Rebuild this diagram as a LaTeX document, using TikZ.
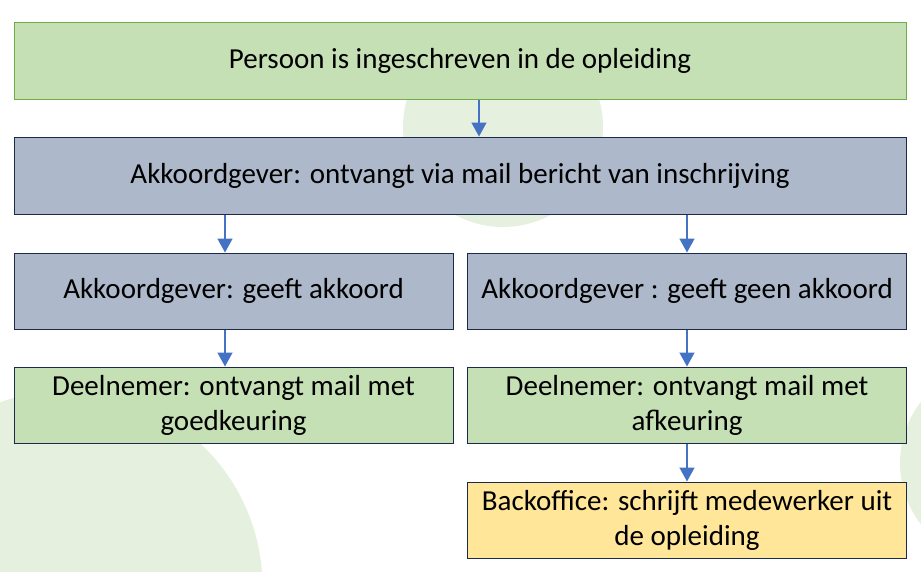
\documentclass[tikz,border=0pt]{standalone}
\usepackage{fontspec}
\setmainfont{Carlito}
\usetikzlibrary{arrows.meta,positioning}
\definecolor{boxgreen}{HTML}{C5E0B4}
\definecolor{boxgreenline}{HTML}{70AD47}
\definecolor{boxblue}{HTML}{ADB9CA}
\definecolor{boxline}{HTML}{1B2A4A}
\definecolor{boxyellow}{HTML}{FFE699}
\definecolor{bgcircle}{HTML}{E6F0DE}
\definecolor{arrowblue}{HTML}{4472C4}
\begin{document}
\begin{tikzpicture}[x=1pt,y=-1pt,
  stepbox/.style={draw=boxline,line width=1pt,minimum height=76pt,inner sep=0pt,align=center,
    font=\fontsize{29}{35}\selectfont,text=black},
  wide/.style={stepbox,minimum width=892pt},
  half/.style={stepbox,minimum width=439pt},
  flow/.style={draw=arrowblue,line width=1.5pt,-{Triangle[length=14pt,width=15pt]}}]
\useasboundingbox (0,0) rectangle (921,571);
% background circles
\fill[bgcircle] (503,127) circle (100);
\fill[bgcircle] (66.5,586.7) circle (196);
\fill[bgcircle] (1000,463) circle (100);
% boxes
\node[wide,fill=boxgreen,draw=boxgreenline,minimum height=77pt] (b1) at (460,60.5) {Persoon is ingeschreven in de opleiding};
\node[wide,fill=boxblue,minimum height=77pt] (b2) at (460,175.5) {Akkoordgever: ontvangt via mail bericht van inschrijving};
\node[half,fill=boxblue] (b3) at (233.5,291) {Akkoordgever: geeft akkoord};
\node[half,fill=boxblue] (b4) at (687,291) {Akkoordgever : geeft geen akkoord};
\node[half,fill=boxgreen] (b5) at (233.5,405) {Deelnemer: ontvangt mail met\\goedkeuring};
\node[half,fill=boxgreen] (b6) at (687,405) {Deelnemer: ontvangt mail met\\afkeuring};
\node[half,fill=boxyellow] (b7) at (687,520) {Backoffice: schrijft medewerker uit\\de opleiding};
% connectors
\draw[flow] ([xshift=19pt]b1.south) -- ([xshift=19pt]b2.north);
\draw[flow] ([xshift=-235pt]b2.south) -- ([xshift=-8.5pt]b3.north);
\draw[flow] ([xshift=227pt]b2.south) -- (b4.north);
\draw[flow] ([xshift=-8.5pt]b3.south) -- ([xshift=-8.5pt]b5.north);
\draw[flow] (b4.south) -- (b6.north);
\draw[flow] (b6.south) -- (b7.north);
\end{tikzpicture}
\end{document}
